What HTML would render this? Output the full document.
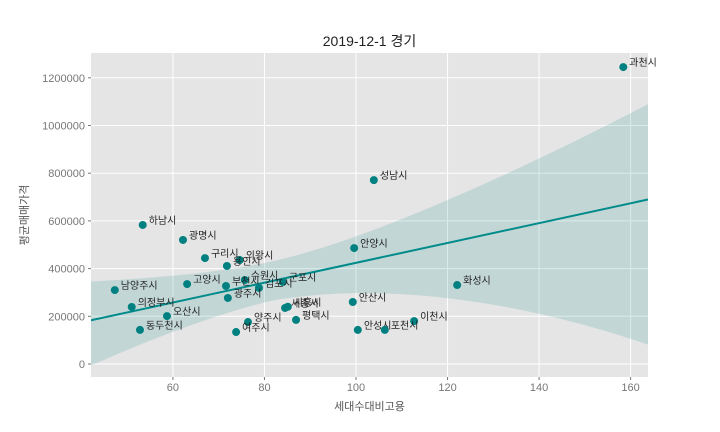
<!DOCTYPE html>
<html><head><meta charset="utf-8"><style>
body{margin:0;background:#fff;}
svg{display:block;font-family:"Liberation Sans","Noto Sans CJK KR",sans-serif;}
</style></head><body>
<svg id="chart" width="720" height="432"></svg>
<script>
const names=["과천시","성남시","하남시","광명시","구리시","의왕시","용인시","안양시","남양주시","고양시","수원시","군포시","부천시","김포시","광주시","의정부시","세종시","시흥시","오산시","평택시","양주시","동두천시","여주시","안산시","화성시","이천시","안성시","포천시"];
const xVals=[158.4,103.9,53.4,62.2,67.0,74.6,71.8,99.6,47.3,63.1,75.7,84.0,71.6,78.8,72.0,51.0,84.5,85.1,58.7,86.9,76.4,52.8,73.8,99.3,122.1,112.7,100.4,106.3];
const yVals=[1245000,771000,583000,520000,444000,436000,411000,486000,310000,335000,352000,344000,327000,319000,277000,239000,235000,240000,201000,185000,176000,143000,134000,260000,331000,180000,143000,143000];
const xTicks=[60,80,100,120,140,160];
const yTicks=[0,200000,400000,600000,800000,1000000,1200000];
const NS="http://www.w3.org/2000/svg";
const svg=document.getElementById('chart');
const L=91,R=648,T=53,B=377;
const xMin=42.1,xMax=163.8,yMin=-54500,yMax=1304000;
const sx=v=>L+(v-xMin)/(xMax-xMin)*(R-L);
const sy=v=>B-(v-yMin)/(yMax-yMin)*(B-T);
function el(tag,attrs,parent){const e=document.createElementNS(NS,tag);for(const k in attrs)e.setAttribute(k,attrs[k]);(parent||svg).appendChild(e);return e;}
const bg=el('rect',{x:L,y:T,width:R-L,height:B-T,fill:'#e5e5e5'});


const clip=el('clipPath',{id:'pc'});el('rect',{x:L,y:T,width:R-L,height:B-T},clip);
xTicks.forEach(t=>{
  const g=el('line',{x1:sx(t),x2:sx(t),y1:T,y2:B,stroke:'#fff','stroke-width':1});
  
  
  el('line',{x1:sx(t),x2:sx(t),y1:B,y2:B+3,stroke:'#777'});
  const tx=el('text',{x:sx(t),y:B+14,'text-anchor':'middle','font-size':11,fill:'#777'});
  tx.textContent=t;
  
  
});
yTicks.forEach(t=>{
  const g=el('line',{x1:L,x2:R,y1:sy(t),y2:sy(t),stroke:'#fff','stroke-width':1});
  
  
  el('line',{x1:L-3,x2:L,y1:sy(t),y2:sy(t),stroke:'#777'});
  const tx=el('text',{x:L-6,y:sy(t)+4,'text-anchor':'end','font-size':11,fill:'#777'});
  tx.textContent=t;
  
  
});
// regression
const n=xVals.length;
const mx=xVals.reduce((a,b)=>a+b)/n,my=yVals.reduce((a,b)=>a+b)/n;
let sxx=0,sxy=0;for(let i=0;i<n;i++){sxx+=(xVals[i]-mx)**2;sxy+=(xVals[i]-mx)*(yVals[i]-my);}
const b1=sxy/sxx,b0=my-b1*mx;
let sse=0;for(let i=0;i<n;i++)sse+=(yVals[i]-b0-b1*xVals[i])**2;
const s=Math.sqrt(sse/(n-2)),tc=2.056;
const up=[],lo=[];
for(let k=0;k<=60;k++){
  const x=xMin+(xMax-xMin)*k/60;const yh=b0+b1*x;const se=s*Math.sqrt(1/n+(x-mx)**2/sxx);
  let fu,fl;
  if(x>=mx){const r=(x-mx)/(xMax-mx);fu=1+0.38*r;fl=1+1.1*r;}
  else{const r=(mx-x)/(mx-xMin);fu=1+0.03*r;fl=1+0.2*r;}
  up.push([sx(x),sy(yh+tc*se*fu)]);lo.push([sx(x),sy(yh-tc*se*fl)]);
}
const band=el('path',{d:'M'+up.map(p=>p.join(',')).join('L')+'L'+lo.reverse().map(p=>p.join(',')).join('L')+'Z',fill:'#008080','fill-opacity':0.15,'clip-path':'url(#pc)'});


const rl=el('line',{x1:sx(xMin),y1:sy(b0+b1*xMin),x2:sx(xMax),y2:sy(b0+b1*xMax),stroke:'#008b8b','stroke-width':2,'clip-path':'url(#pc)'});


for(let i=0;i<n;i++){
  const c=el('circle',{cx:sx(xVals[i]),cy:sy(yVals[i]),r:4,fill:'#008080'});
  
  
  const tx=el('text',{x:sx(xVals[i])+6,y:sy(yVals[i])-1,'font-size':10,fill:'#222'});
  tx.textContent=names[i];
  
  
}
const title=el('text',{x:(L+R)/2,y:46,'text-anchor':'middle','font-size':14,fill:'#222'});
title.textContent='2019-12-1 경기';


const xl=el('text',{x:(L+R)/2,y:410,'text-anchor':'middle','font-size':11,fill:'#555'});
xl.textContent='세대수대비고용';


const yl=el('text',{x:0,y:0,'text-anchor':'middle','font-size':11,fill:'#555',transform:'translate(28,'+((T+B)/2)+') rotate(-90)'});
yl.textContent='평균매매가격';


</script>
</body></html>
